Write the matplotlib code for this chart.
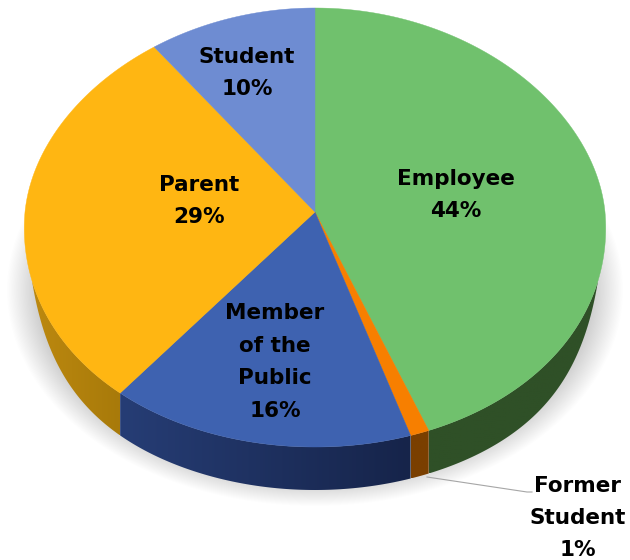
import numpy as np
import matplotlib
matplotlib.use("Agg")
import matplotlib.pyplot as plt
from matplotlib.patches import Polygon, Ellipse
from matplotlib.colors import LinearSegmentedColormap

categories = ["Employee", "Former\nStudent", "Member\nof the\nPublic", "Parent", "Student"]
values = [44, 1, 16, 29, 10]
top_colors = ["#70C16D", "#F77F00", "#3E62B0", "#FFB612", "#6E8CD2"]
side_left = ["#2F5027", "#7A3F00", "#263D75", "#BE8A10", "#4A5F90"]
side_right = ["#2F5027", "#7A3F00", "#16244A", "#A87A0A", "#4A5F90"]
label_xy = [(456, 195), (578, 518), (275, 362), (199, 201), (247, 73)]

CX, CY, RX, RY_BACK, RY_FRONT, DEPTH, PERSP = 315, 212, 290, 204, 235, 43, 0.07


def rim(theta):
    """Project clockwise-from-top angles onto the tilted pie's rim."""
    s, c = np.sin(theta), np.cos(theta)
    x = CX + RX * s * (1 - PERSP * c)
    y = CY - np.where(c >= 0, RY_BACK, RY_FRONT) * c
    return x, y


def wall_depth(theta):
    """Visible wall height: zero near the sides, full at the front."""
    off = np.abs(theta - np.pi)
    t = np.clip((np.radians(73) - off) / np.radians(51), 0, 1)
    return DEPTH * (1 - (1 - t) ** 4)


fig = plt.figure(figsize=(6.3, 5.6), dpi=100)
ax = fig.add_axes([0, 0, 1, 1])
ax.set_xlim(0, 630)
ax.set_ylim(560, 0)
ax.axis("off")

# soft drop shadow
for i in range(26):
    g = i / 25
    ax.add_patch(Ellipse((315, 290), 2 * (308 - 32 * g), 2 * (216 - 24 * g),
                         fc="black", ec="none", alpha=0.009, zorder=1))

edges = np.cumsum([0] + values) / sum(values) * 2 * np.pi

# side walls (front part only), each shaded from its left to its right end
for i in range(len(values)):
    a0, a1 = max(edges[i], np.pi / 2), min(edges[i + 1], 3 * np.pi / 2)
    if a1 <= a0:
        continue
    th = np.linspace(a0, a1, 200)
    x, y = rim(th)
    d = wall_depth(th)
    pts = np.column_stack([np.r_[x, x[::-1]], np.r_[y, (y + d)[::-1]]])
    poly = Polygon(pts, closed=True, fc="none", ec="none", transform=ax.transData)
    ax.add_patch(poly)
    cmap = LinearSegmentedColormap.from_list("w", [side_left[i], side_right[i]])
    im = ax.imshow(np.linspace(0, 1, 128)[None, :], cmap=cmap, aspect="auto",
                   extent=[x.min(), x.max(), (y + d).max(), y.min()], zorder=2,
                   interpolation="bilinear")
    im.set_clip_path(poly)

ax.set_xlim(0, 630)
ax.set_ylim(560, 0)

# top faces
for i in range(len(values)):
    th = np.linspace(edges[i], edges[i + 1], 200)
    x, y = rim(th)
    pts = np.column_stack([np.r_[CX, x], np.r_[CY, y]])
    ax.add_patch(Polygon(pts, fc=top_colors[i], ec=top_colors[i], lw=0.3, zorder=3))

# leader line for the small slice
ax.plot([427, 527, 532], [477, 492, 492], color="#A6A6A6", lw=0.8, zorder=4)

# labels
for name, val, (lx, ly) in zip(categories, values, label_xy):
    ax.text(lx, ly, f"{name}\n{val}%", ha="center", va="center", fontsize=15.5,
            fontweight="bold", family="DejaVu Sans", color="black", linespacing=1.78, zorder=5)

fig.savefig("out.png", dpi=100)
